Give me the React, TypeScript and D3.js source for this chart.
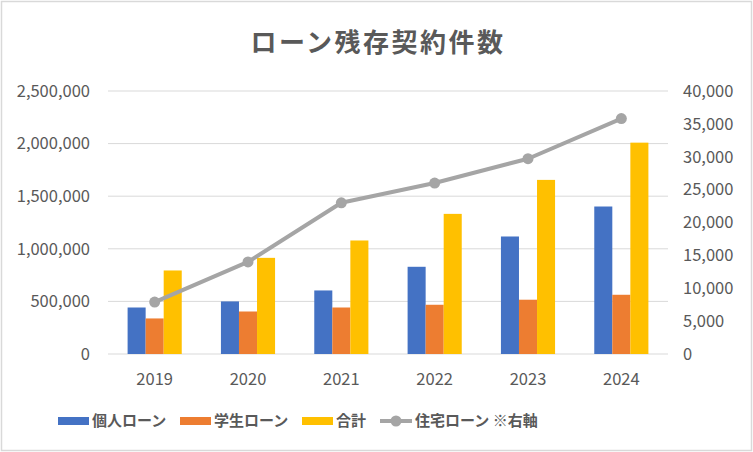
import * as React from 'react';
import * as d3 from 'd3';

const years = ['2019', '2020', '2021', '2022', '2023', '2024'];
const personalLoan = [442000, 500000, 604000, 829000, 1117000, 1402000];
const studentLoan = [338000, 404000, 442000, 468000, 516000, 563000];
const totalLoan = [794000, 914000, 1079000, 1332000, 1655000, 2009000];
const housingLoan = [7900, 14000, 23000, 26000, 29700, 35800];

const leftTicks = [0, 500000, 1000000, 1500000, 2000000, 2500000];
const rightTicks = [0, 5000, 10000, 15000, 20000, 25000, 30000, 35000, 40000];

const dimensions = { width: 753, height: 452 };
const margin = { top: 91, left: 108, right: 85, bottom: 98 };

const barSeries = [
  { name: '個人ローン', values: personalLoan, color: '#4472c4' },
  { name: '学生ローン', values: studentLoan, color: '#ed7d31' },
  { name: '合計', values: totalLoan, color: '#ffc000' },
];
const lineName = '住宅ローン ※右軸';
const lineColor = '#a5a5a5';

const font = '"Noto Sans CJK JP", "Noto Sans", sans-serif';
const textColor = '#595959';

const App: React.FC = () => {
  const x = d3
    .scaleBand(years, [margin.left, dimensions.width - margin.right])
    .paddingInner(0.42)
    .paddingOuter(0.21);
  const xInner = d3
    .scaleBand(
      barSeries.map((s) => s.name),
      [0, x.bandwidth()]
    )
    .padding(0);
  const yLeft = d3.scaleLinear(
    [0, 2500000],
    [dimensions.height - margin.bottom, margin.top]
  );
  const yRight = d3.scaleLinear(
    [0, 40000],
    [dimensions.height - margin.bottom, margin.top]
  );
  const fmt = d3.format(',');

  const line = d3
    .line<number>()
    .x((_, i) => x(years[i])! + x.bandwidth() / 2)
    .y((d) => yRight(d));

  const legendY = 421;

  return (
    <svg
      width={dimensions.width}
      height={dimensions.height}
      viewBox={`0 0 ${dimensions.width} ${dimensions.height}`}
      style={{ position: 'absolute', left: 0, top: 0, display: 'block' }}
      fontFamily={font}
    >
      <rect
        x={1.5}
        y={1.5}
        width={dimensions.width - 3}
        height={dimensions.height - 3}
        fill="#fff"
        stroke="#d9d9d9"
        strokeWidth={1.5}
      />
      <text
        x={378}
        y={52}
        textAnchor="middle"
        fontSize={26}
        fontWeight="bold"
        letterSpacing={2.5}
        fill={textColor}
      >
        ローン残存契約件数
      </text>

      {/* gridlines */}
      <g>
        {leftTicks.map((t) => (
          <line
            key={t}
            x1={margin.left}
            x2={dimensions.width - margin.right}
            y1={yLeft(t)}
            y2={yLeft(t)}
            stroke="#d9d9d9"
            strokeWidth={1}
          />
        ))}
      </g>

      {/* left axis */}
      <g fontSize={16.5} fill={textColor}>
        {leftTicks.map((t) => (
          <text key={t} x={90} y={yLeft(t)} dy="0.35em" textAnchor="end">
            {fmt(t)}
          </text>
        ))}
      </g>

      {/* right axis */}
      <g fontSize={16.5} fill={textColor}>
        {rightTicks.map((t) => (
          <text key={t} x={683} y={yRight(t)} dy="0.35em" textAnchor="start">
            {fmt(t)}
          </text>
        ))}
      </g>

      {/* x axis */}
      <g fontSize={16.5} fill={textColor}>
        {years.map((yr) => (
          <text
            key={yr}
            x={x(yr)! + x.bandwidth() / 2}
            y={379}
            dy="0.35em"
            textAnchor="middle"
          >
            {yr}
          </text>
        ))}
      </g>

      {/* bars */}
      <g>
        {barSeries.map((s) =>
          s.values.map((v, i) => (
            <rect
              key={`${s.name}-${years[i]}`}
              x={x(years[i])! + xInner(s.name)!}
              y={yLeft(v)}
              width={xInner.bandwidth()}
              height={yLeft(0) - yLeft(v)}
              fill={s.color}
            />
          ))
        )}
      </g>

      {/* line */}
      <path
        d={line(housingLoan) ?? ''}
        fill="none"
        stroke={lineColor}
        strokeWidth={4}
        strokeLinejoin="round"
      />
      <g fill={lineColor}>
        {housingLoan.map((v, i) => (
          <circle
            key={years[i]}
            cx={x(years[i])! + x.bandwidth() / 2}
            cy={yRight(v)}
            r={5.5}
          />
        ))}
      </g>

      {/* legend */}
      <g fontSize={15} fill={textColor} fontWeight="bold">
        {barSeries.map((s, i) => {
          const lx = [58, 180, 302][i];
          return (
            <g key={s.name}>
              <rect x={lx} y={legendY - 4} width={31} height={8} fill={s.color} />
              <text x={lx + 34} y={legendY} dy="0.35em">
                {s.name}
              </text>
            </g>
          );
        })}
        <line
          x1={380}
          x2={412}
          y1={legendY}
          y2={legendY}
          stroke={lineColor}
          strokeWidth={4}
        />
        <circle cx={396} cy={legendY} r={5.5} fill={lineColor} />
        <text x={415} y={legendY} dy="0.35em">
          {lineName}
        </text>
      </g>
    </svg>
  );
};

export default App;
